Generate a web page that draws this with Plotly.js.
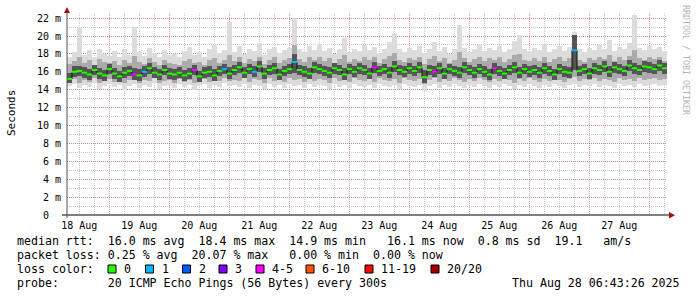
<!DOCTYPE html>
<html><head><meta charset="utf-8">
<script src="https://cdn.plot.ly/plotly-3.0.1.min.js"></script>
<style>html,body{margin:0;padding:0;background:#fff;overflow:hidden}#chart{width:697px;height:297px}</style>
</head><body><div id="chart"></div>
<script>
// ---- time base ----
const startTime = Date.UTC(2025, 7, 18, 7, 5);
const stepMs = 2 * 3600 * 1000;
const spanMs = 10 * 24 * 3600 * 1000;

// ---- data (ms), one value per 2 h bin ----
const medianRtt = [
15.2,16.0,16.1,15.9,15.7,16.2,15.8,15.6,16.3,
15.8,15.5,15.9,16.1,15.7,15.6,16.0,16.4,15.9,15.7,16.2,15.8,
15.7,15.9,15.6,15.8,16.2,15.5,15.9,16.0,15.6,16.1,16.3,15.8,
16.2,16.5,15.9,16.3,16.0,16.6,15.8,16.2,16.4,15.7,16.1,16.3,
17.1,16.2,16.0,15.8,16.5,16.3,16.1,15.9,16.4,16.2,15.7,16.3,
16.0,16.4,16.2,15.8,16.5,16.1,16.3,15.9,16.6,16.2,16.0,16.4,
16.1,16.5,15.4,16.2,16.0,16.4,15.8,16.3,16.1,15.9,16.5,16.2,
15.9,16.3,16.0,15.7,16.4,16.1,15.8,16.2,16.5,15.9,16.3,16.0,
16.2,15.9,16.4,16.1,15.7,16.3,16.0,15.9,18.4,16.1,16.3,15.8,
16.4,16.2,16.6,16.0,16.5,16.3,16.1,16.7,16.4,16.2,16.6,16.5,
16.3,16.7,16.4];

const smokeMax = [
17.6,18.2,20.9,17.9,18.4,17.7,18.6,18.0,17.8,
18.3,17.6,18.5,17.9,21.0,18.2,17.8,18.7,18.1,17.7,18.4,17.9,
18.0,17.6,18.3,18.8,17.9,18.2,17.7,18.5,19.0,18.1,18.4,21.6,
18.2,18.9,18.0,18.6,18.3,19.2,17.9,18.5,18.8,18.1,18.4,18.7,
22.0,18.6,18.2,18.9,18.4,19.1,18.3,18.7,18.0,18.5,19.8,18.2,
18.6,18.3,19.0,18.4,18.8,18.1,18.6,19.3,20.2,18.5,18.2,18.7,
18.4,18.9,18.1,18.6,19.3,18.3,18.8,18.0,18.5,21.2,18.7,18.2,
18.6,19.0,18.3,18.7,18.4,18.9,18.2,18.6,19.4,20.1,18.5,18.3,
18.7,18.4,19.1,18.2,18.6,18.9,18.3,18.8,20.4,18.5,18.2,18.7,
18.4,19.0,18.6,19.6,18.3,18.8,18.5,19.2,22.3,18.7,18.4,18.9,
18.5,18.8,18.3];

const smokeMin = [
14.4,14.6,14.2,14.5,14.3,14.7,14.1,14.4,14.6,
14.3,14.5,14.0,14.4,14.6,14.2,14.5,14.3,14.7,14.1,14.4,14.5,
14.2,14.6,14.3,14.5,14.0,14.4,14.6,14.2,14.5,14.3,14.7,14.4,
14.5,14.3,14.6,14.2,14.5,14.4,14.1,14.6,14.3,14.5,14.2,14.6,
14.4,14.5,14.2,14.6,14.3,14.5,14.4,14.1,14.6,14.3,14.5,14.2,
14.6,14.4,14.3,14.5,14.2,14.6,14.4,14.3,14.5,14.1,14.6,14.4,
14.3,14.5,13.9,14.4,14.6,14.2,14.5,14.3,14.6,14.4,14.2,14.5,
14.3,14.6,14.4,14.2,14.5,14.3,14.6,14.4,14.1,14.5,14.3,14.6,
14.4,14.2,14.5,14.3,14.6,14.4,14.2,14.5,14.6,14.3,14.5,14.4,
14.6,14.3,14.5,14.4,14.2,14.6,14.4,14.5,14.3,14.6,14.4,14.5,
14.6,14.4,14.5];

const smokeP90 = [
16.9,17.2,17.6,17.0,17.3,16.8,17.4,17.1,17.0,
17.2,16.8,17.3,17.0,17.8,17.1,16.9,17.5,17.1,16.8,17.3,17.0,
16.9,16.8,17.2,17.4,17.0,17.1,16.8,17.3,17.5,17.0,17.3,17.9,
17.2,17.6,17.0,17.4,17.2,17.7,16.9,17.3,17.6,17.0,17.3,17.5,
19.0,17.4,17.1,17.6,17.3,17.7,17.2,17.5,17.0,17.4,17.9,17.1,
17.4,17.2,17.7,17.3,17.6,17.0,17.4,17.8,18.1,17.3,17.1,17.5,
17.3,17.6,16.9,17.4,17.8,17.2,17.5,17.0,17.3,18.2,17.5,17.1,
17.4,17.7,17.2,17.5,17.3,17.6,17.1,17.4,17.9,18.0,17.3,17.2,
17.5,17.2,17.7,17.1,17.4,17.6,17.2,17.5,19.6,17.3,17.1,17.5,
17.3,17.7,17.4,17.9,17.2,17.6,17.3,17.8,18.4,17.5,17.3,17.6,
17.4,17.6,17.2];

const smokeP10 = [
14.9,15.2,14.8,15.1,14.9,15.3,14.7,15.0,15.2,
14.9,15.0,14.7,15.1,15.2,14.8,15.1,15.0,15.3,14.8,15.0,15.1,
14.8,15.2,14.9,15.1,14.7,15.0,15.2,14.9,15.1,15.0,15.3,15.0,
15.1,15.0,15.3,14.9,15.2,15.1,14.8,15.3,15.0,15.2,14.9,15.3,
15.1,15.2,14.9,15.3,15.0,15.2,15.1,14.8,15.3,15.0,15.2,14.9,
15.3,15.1,15.0,15.2,14.9,15.3,15.1,15.0,15.2,14.8,15.3,15.1,
15.0,15.2,14.6,15.1,15.3,14.9,15.2,15.0,15.3,15.1,14.9,15.2,
15.0,15.3,15.1,14.9,15.2,15.0,15.3,15.1,14.8,15.2,15.0,15.3,
15.1,14.9,15.2,15.0,15.3,15.1,14.9,15.2,15.4,15.0,15.2,15.1,
15.3,15.0,15.2,15.1,14.9,15.3,15.1,15.2,15.0,15.3,15.1,15.2,
15.3,15.1,15.2];

const smokeP75 = [
15.9,16.6,16.7,16.5,16.3,16.8,16.4,16.2,16.9,
16.4,16.1,16.5,16.7,16.4,16.3,16.7,17.0,16.5,16.3,16.8,16.4,
16.3,16.5,16.2,16.4,16.8,16.1,16.5,16.6,16.3,16.7,16.9,16.5,
16.8,17.1,16.5,16.9,16.6,17.2,16.4,16.8,17.0,16.3,16.7,16.9,
18.0,16.8,16.6,16.4,17.1,16.9,16.7,16.5,17.0,16.8,16.4,16.9,
16.6,17.0,16.8,16.4,17.1,16.7,16.9,16.5,17.2,16.8,16.6,17.0,
16.7,17.1,16.2,16.8,16.6,17.0,16.4,16.9,16.7,16.5,17.1,16.8,
16.5,16.9,16.6,16.3,17.0,16.7,16.4,16.8,17.1,16.5,16.9,16.6,
16.8,16.5,17.0,16.7,16.3,16.9,16.6,16.5,20.1,16.7,16.9,16.4,
17.0,16.8,17.2,16.6,17.1,16.9,16.7,17.3,17.0,16.8,17.2,17.1,
16.9,17.3,17.0];

const smokeP25 = [
14.8,15.4,15.5,15.3,15.1,15.6,15.2,15.0,15.7,
15.2,14.9,15.3,15.5,15.1,15.0,15.4,15.8,15.3,15.1,15.6,15.2,
15.1,15.3,15.0,15.2,15.6,14.9,15.3,15.4,15.0,15.5,15.7,15.2,
15.6,15.9,15.3,15.7,15.4,16.0,15.2,15.6,15.8,15.1,15.5,15.7,
15.9,15.6,15.4,15.2,15.9,15.7,15.5,15.3,15.8,15.6,15.1,15.7,
15.4,15.8,15.6,15.2,15.9,15.5,15.7,15.3,16.0,15.6,15.4,15.8,
15.5,15.9,14.7,15.6,15.4,15.8,15.2,15.7,15.5,15.3,15.9,15.6,
15.3,15.7,15.4,15.1,15.8,15.5,15.2,15.6,15.9,15.3,15.7,15.4,
15.6,15.3,15.8,15.5,15.1,15.7,15.4,15.3,16.2,15.5,15.7,15.2,
15.8,15.6,16.0,15.4,15.9,15.7,15.5,16.1,15.8,15.6,16.0,15.9,
15.7,16.1,15.8];

// bins with packet loss (index into bins, index into loss legend)
const lossBins   = [13, 15, 25, 31, 37, 45, 61, 73, 85, 101];
const lossLevels = [4,  1,  4,  1,  1,  1,  4,  4,  4,  1];

const lossLabels = ['0', '1', '2', '3', '4-5', '6-10', '11-19', '20/20'];
const lossColors = ['#26ff00', '#00b8ff', '#0059ff', '#7e00ff', '#ff00ff', '#ff5500', '#ff0000', '#a00000'];

const yTickVals = [0, 2, 4, 6, 8, 10, 12, 14, 16, 18, 20, 22];
const yTickText = ['0\u00a0\u00a0', '2 m', '4 m', '6 m', '8 m', '10 m', '12 m', '14 m', '16 m', '18 m', '20 m', '22 m'];

const legendRows = [
  'median rtt:  16.0 ms avg  18.4 ms max  14.9 ms min   16.1 ms now  0.8 ms sd  19.1   am/s',
  'packet loss: 0.25 % avg  20.07 % max   0.00 % min  0.00 % now',
  'loss color:',
  'probe:       20 ICMP Echo Pings (56 Bytes) every 300s'
];
const stampText = 'Thu Aug 28 06:43:26 2025';
const sideText = 'RRDTOOL / TOBI OETIKER';

// ---- geometry helpers (pixel -> paper) ----
const L = 67, T = 13, W = 600, H = 202;
const px = x => (x - L) / W;
const py = y => (T + H - y) / H;
const MONO = 'DejaVu Sans Mono';
const nb = s => s.replace(/ /g, '\u00a0');

const times = medianRtt.map((_, i) => startTime + (i + 0.5) * stepMs);

function band(lo, hi, color) {
  return {type: 'bar', x: times, base: lo, y: hi.map((h, i) => h - lo[i]), width: stepMs,
    marker: {color: color, line: {width: 0}}, hoverinfo: 'skip', showlegend: false};
}

const pointColors = medianRtt.map(() => lossColors[0]);
lossBins.forEach((b, k) => { pointColors[b] = lossColors[lossLevels[k]]; });

const traces = [
  band(smokeMin, smokeMax, '#dcdcdc'),
  band(smokeP10, smokeP90, '#ababab'),
  band(smokeP25, smokeP75, '#555555'),
  {type: 'scatter', mode: 'lines', x: times, y: medianRtt, line: {color: '#111', width: 1, shape: 'hvh'},
    hoverinfo: 'skip', showlegend: false},
  {type: 'scatter', mode: 'markers', x: times, y: medianRtt,
    marker: {symbol: 'line-ew', size: 4, color: pointColors, line: {color: pointColors, width: 2}},
    hoverinfo: 'skip', showlegend: false}
];

const majorGrid = 'rgba(205,95,95,0.6)';
const minorGrid = '#c9c9c9';

const annotations = [];
const rowY = [241, 255, 269, 283];
legendRows.forEach((t, i) => annotations.push({
  xref: 'paper', yref: 'paper', x: px(15), y: py(rowY[i]), xanchor: 'left', yanchor: 'middle',
  text: nb(t), showarrow: false, font: {family: MONO, size: 11.6, color: '#000'}
}));
annotations.push({xref: 'paper', yref: 'paper', x: px(682), y: py(283), xanchor: 'right', yanchor: 'middle',
  text: nb(stampText), showarrow: false, font: {family: MONO, size: 11.6, color: '#000'}});
annotations.push({xref: 'paper', yref: 'paper', x: px(11), y: py(113), xanchor: 'center', yanchor: 'middle',
  text: 'Seconds', textangle: -90, showarrow: false, font: {family: MONO, size: 11, color: '#000'}});
annotations.push({xref: 'paper', yref: 'paper', x: px(686), y: py(60), xanchor: 'center', yanchor: 'middle',
  text: nb(sideText), textangle: 90, showarrow: false, font: {family: MONO, size: 8.3, color: '#b4b4b4'}});

const shapes = [];
const boxX = [108, 145.5, 182.5, 219, 256, 306, 365, 431];
lossLabels.forEach((lab, i) => {
  shapes.push({type: 'rect', xref: 'paper', yref: 'paper', x0: px(boxX[i]), x1: px(boxX[i] + 8),
    y0: py(273), y1: py(265), fillcolor: lossColors[i], line: {color: '#000', width: 1}});
  annotations.push({xref: 'paper', yref: 'paper', x: px(boxX[i] + 14), y: py(269), xanchor: 'left', yanchor: 'middle',
    text: nb(lab), showarrow: false, font: {family: MONO, size: 11.6, color: '#000'}});
});
// axis lines and arrows
shapes.push({type: 'line', xref: 'paper', yref: 'paper', x0: px(62), x1: px(669), y0: py(215), y1: py(215), line: {color: '#000', width: 1}});
shapes.push({type: 'line', xref: 'paper', yref: 'paper', x0: px(67), x1: px(67), y0: py(218), y1: py(11), line: {color: '#555', width: 1}});
shapes.push({type: 'path', xref: 'paper', yref: 'paper',
  path: `M ${px(64)} ${py(13)} L ${px(70)} ${py(13)} L ${px(67)} ${py(7)} Z`, fillcolor: '#a01010', line: {width: 0}});
shapes.push({type: 'path', xref: 'paper', yref: 'paper',
  path: `M ${px(669)} ${py(212)} L ${px(669)} ${py(218.5)} L ${px(675)} ${py(215.2)} Z`, fillcolor: '#a01010', line: {width: 0}});

const layout = {
  width: 697, height: 297,
  margin: {l: L, r: 697 - L - W, t: T, b: 297 - T - H, pad: 0},
  paper_bgcolor: '#fff', plot_bgcolor: '#fff',
  font: {family: MONO, size: 10, color: '#000'},
  showlegend: false, barmode: 'overlay', bargap: 0,
  xaxis: {
    type: 'date', range: [startTime, startTime + spanMs],
    tick0: '2025-08-18', dtick: 86400000, tickformat: '%d %b', ticklabelmode: 'period',
    showgrid: true, gridcolor: majorGrid, gridwidth: 1, griddash: '1px,1px',
    minor: {tick0: '2025-08-18', dtick: 21600000, showgrid: true, gridcolor: minorGrid, gridwidth: 1, griddash: '1px,1px'},
    ticks: '', showline: false, zeroline: false, ticklabelstandoff: 3,
    tickfont: {family: MONO, size: 10, color: '#000'}, fixedrange: true
  },
  yaxis: {
    range: [0, 22.57], tickmode: 'array', tickvals: yTickVals, ticktext: yTickText,
    showgrid: true, gridcolor: majorGrid, gridwidth: 1, griddash: '1px,1px',
    minor: {tickmode: 'linear', tick0: 0, dtick: 1, showgrid: true, gridcolor: minorGrid, gridwidth: 1, griddash: '1px,1px'},
    ticks: '', showline: false, zeroline: false, ticklabelstandoff: 5,
    tickfont: {family: MONO, size: 10, color: '#000'}, fixedrange: true
  },
  annotations: annotations,
  shapes: shapes
};

Plotly.newPlot('chart', traces, layout, {staticPlot: true, displayModeBar: false});
</script>
</body></html>
